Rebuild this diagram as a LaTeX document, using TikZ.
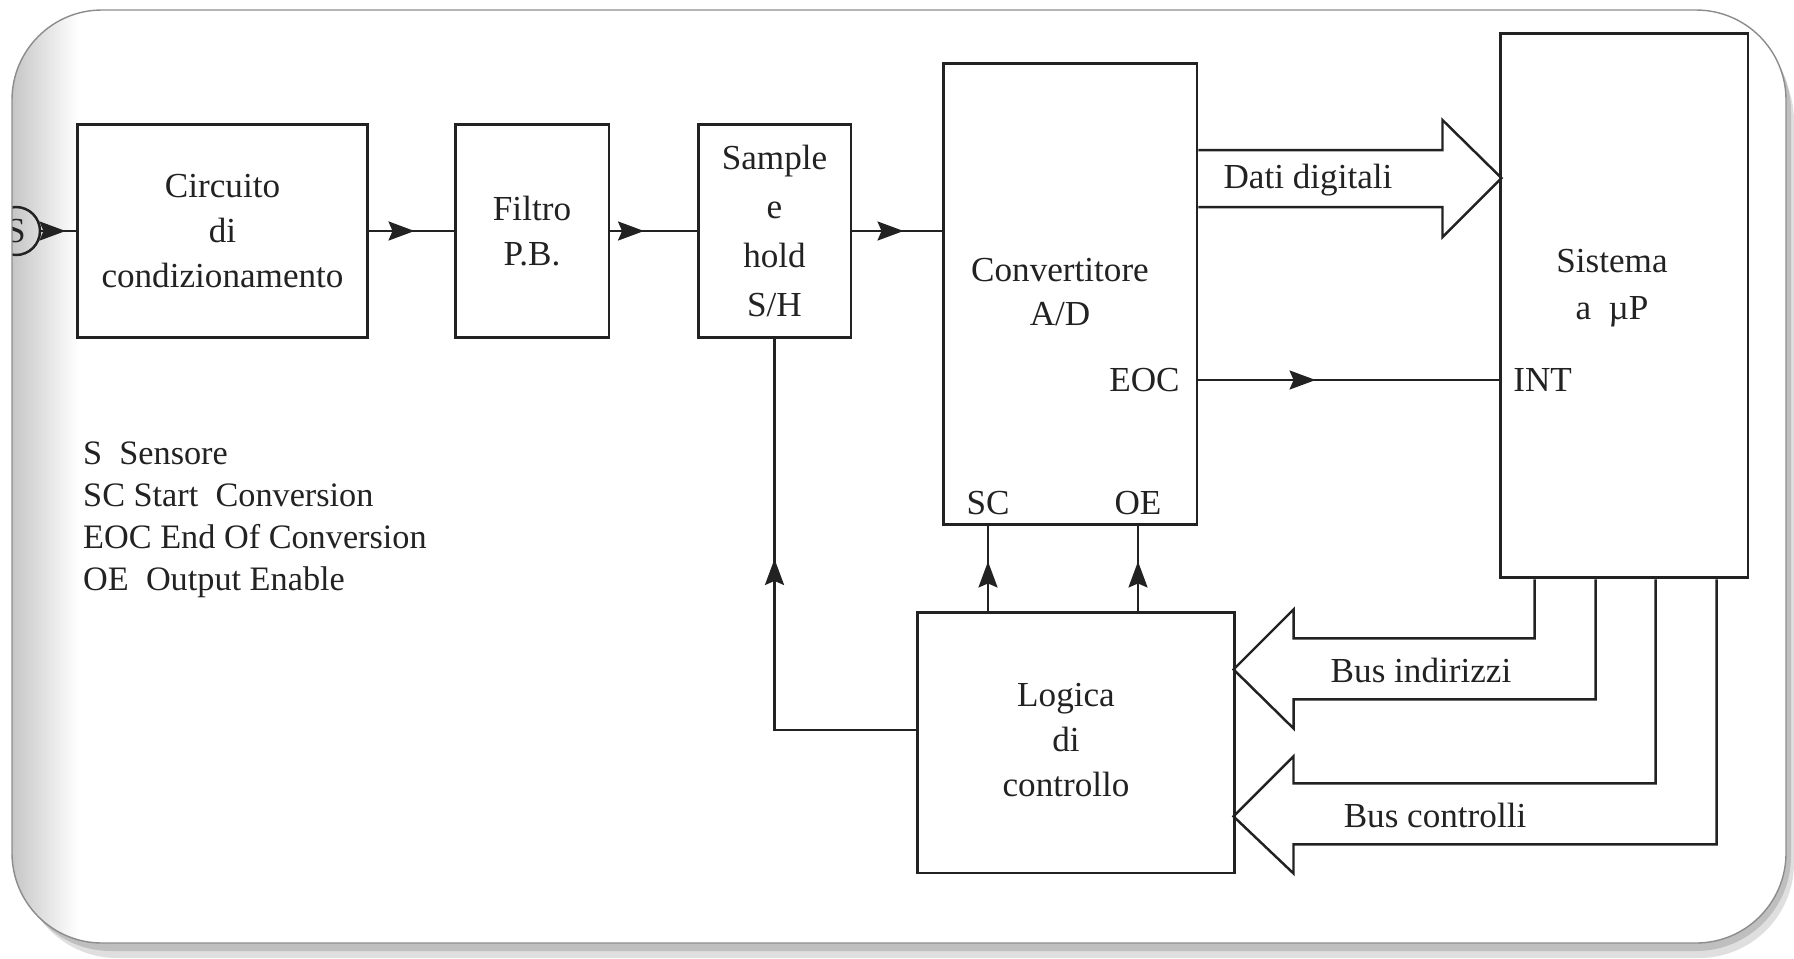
\documentclass[tikz,border=0pt]{standalone}
\usepackage{fontspec}
\setmainfont{Liberation Serif}
\usetikzlibrary{arrows.meta,decorations.markings}
\definecolor{ink}{HTML}{222222}
\definecolor{framegray}{HTML}{8C8C8C}

\begin{document}
\begin{tikzpicture}[
		x=0.02cm, y=-0.02cm,
		every node/.style={font=\fontsize{20}{25.5}\selectfont, text=ink},
		block/.style={
			draw=ink,
			line width=1.7pt,
			fill=white,
			align=center,
			inner sep=0pt
		},
		sigline/.style={draw=ink, line width=1.4pt},
		busline/.style={draw=ink, line width=1.4pt, line join=miter},
		midarrow/.style={
			postaction={decorate},
			decoration={markings,
				mark=at position -#1 with {\arrow{Stealth[length=0.52cm, width=0.38cm, inset=0.08cm]}}}
		},
		pinlabel/.style={inner sep=0pt}
	]
		\useasboundingbox (0,0) rectangle (1794,958);

		% frame and shadow
		\fill[gray!25, rounded corners=1.9cm] (22,26) rectangle (1794,958);
		\fill[gray!50, rounded corners=1.9cm] (16,16) rectangle (1791,951);
		\fill[white, rounded corners=1.8cm] (12,10) rectangle (1786,943);
		\begin{scope}
			\clip[rounded corners=1.8cm] (12,10) rectangle (1786,943);
			\shade[left color=gray!45, right color=white] (12,10) rectangle (78,943);
			\node[draw=ink, circle, line width=1.4pt, minimum size=0.96cm, inner sep=0pt]
				(s) at (16,231) {S};
		\end{scope}
		\draw[framegray, line width=0.8pt, rounded corners=1.8cm] (12,10) rectangle (1786,943);

		% blocks
		\node[block, minimum width=5.82cm, minimum height=4.26cm] (circuito)
			at (222.5,231) {Circuito\\di\\condizionamento};
		\node[block, minimum width=3.08cm, minimum height=4.26cm] (filtro)
			at (532,231) {Filtro\\P.B.};
		\node[block, minimum width=3.06cm, minimum height=4.26cm,
			font=\fontsize{20}{28}\selectfont] (sample)
			at (774.5,231) {Sample\\e\\hold\\S/H};
		\node[block, minimum width=5.08cm, minimum height=9.24cm] (adc)
			at (1070,294) {};
		\node[block, minimum width=4.96cm, minimum height=10.9cm] (sistema)
			at (1624,305.5) {};
		\node[block, minimum width=6.36cm, minimum height=5.22cm] (logica)
			at (1076,742.5) {};

		% texts
		\node[align=center] (adctxt) at (1060,292) {Convertitore\\A/D};
		\node[align=center, font=\fontsize{20}{26.5}\selectfont] (sistxt)
			at (1612,288) {Sistema\\a\ \ µP};
		\node[align=center] (logtxt) at (1066,740) {Logica\\di\\controllo};
		\node[pinlabel, anchor=east] (eoc) at (1180,380) {EOC};
		\node[pinlabel] (sc) at (988,503) {SC};
		\node[pinlabel] (oe) at (1138,503) {OE};
		\node[pinlabel, anchor=west] (int) at (1513,380) {INT};
		\node (dati) at (1308,180) {Dati digitali};
		\node (busind) at (1421,670) {Bus indirizzi};
		\node (busctl) at (1435,815) {Bus controlli};
		\node[align=left, anchor=west, font=\fontsize{19.5}{23.8}\selectfont] (legend)
			at (77,520) {S\ \ Sensore\\SC Start\ \ Conversion\\EOC End Of Conversion\\OE\ \ Output Enable};

		% signal chain
		\draw[sigline, midarrow=0.2cm] (s) -- (circuito);
		\draw[sigline, midarrow=0.78cm] (circuito) -- (filtro);
		\draw[sigline, midarrow=1.05cm] (filtro) -- (sample);
		\draw[sigline, midarrow=0.76cm] (sample) -- (sample -| adc.west);

		% control lines
		\draw[sigline, midarrow=4.4cm] ([yshift=0.25cm]logica.west) -| (sample.south);
		\draw[sigline, midarrow=0.7cm] (logica.north -| sc) -- (adc.south -| sc);
		\draw[sigline, midarrow=0.7cm] (logica.north -| oe) -- (adc.south -| oe);
		\draw[sigline, midarrow=3.66cm] (adc.east |- eoc) -- (sistema.west |- eoc);

		% buses
		\draw[busline] ([yshift=2.88cm]adc.east) -- ++(244,0) -- ++(0,-30)
			-- ++(59,58) -- ++(-59,59) -- ++(0,-30) -- ++(-244,0);
		\draw[busline] ([xshift=0.72cm]sistema.south west) -- ++(0,59) -- ++(-241,0)
			-- ++(0,-29) -- ++(-60,60) -- ++(60,59) -- ++(0,-29) -- ++(302,0) -- ++(0,-120);
		\draw[busline] ([xshift=3.14cm]sistema.south west) -- ++(0,204) -- ++(-362,0)
			-- ++(0,-27) -- ++(-60,60) -- ++(60,57) -- ++(0,-29) -- ++(423,0) -- ++(0,-265);
	\end{tikzpicture}
\end{document}
